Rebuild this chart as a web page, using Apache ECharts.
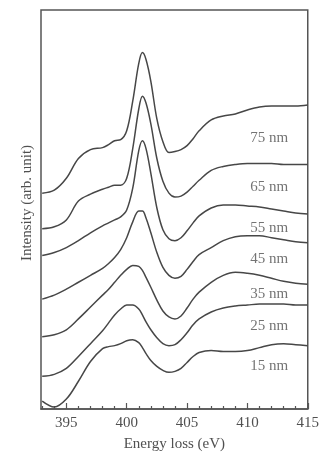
<!DOCTYPE html>
<html>
<head>
<meta charset="utf-8">
<script src="https://cdn.jsdelivr.net/npm/echarts@6/dist/echarts.min.js"></script>
<style>
  html, body { margin: 0; padding: 0; background: #fff; }
  #chart { width: 322px; height: 457px; }
</style>
</head>
<body>
<div id="chart"></div>
<script>
// Energy-loss axis (eV) shared by all spectra
const energy = [393, 394, 395, 396, 397, 398, 398.5, 399, 399.5, 400, 400.5, 401, 401.3, 401.6, 402, 402.5,
                403, 403.5, 404, 404.5, 405, 405.5, 406, 407, 408, 409, 410, 411, 412, 413, 414, 415];

// Offset spectra, one per film thickness (arbitrary units)
const s75 = [218, 221, 233, 253, 262, 264, 267, 271, 272, 281, 311, 349, 360, 353, 331, 293,
             270, 259, 260, 262, 266, 273, 281, 292, 296, 298, 302, 305, 306, 306, 306, 307];
const s65 = [182, 184, 191, 210, 217, 222, 224, 226, 226, 233, 263, 303, 316, 309, 288, 253,
             230, 218, 214, 215, 219, 225, 231, 241, 245, 247, 248, 248, 248, 247, 247, 247];
const s55 = [155, 158, 163, 170, 178, 185, 188, 191, 194, 201, 223, 261, 271, 263, 238, 203,
             181, 172, 170, 173, 180, 188, 195, 203, 206, 206, 205, 204, 202, 200, 198, 197];
const s45 = [111, 115, 121, 128, 135, 142, 147, 153, 161, 173, 189, 200, 200, 193, 178, 158,
             143, 135, 132, 134, 141, 149, 156, 163, 170, 174, 175, 175, 173, 171, 169, 168];
const s35 = [73, 75, 80, 91, 103, 115, 121, 128, 135, 141, 145, 144, 140, 133, 123, 110,
             99, 93, 91, 94, 102, 111, 118, 128, 135, 138, 137, 135, 132, 129, 127, 126];
const s25 = [33, 35, 41, 53, 66, 79, 87, 95, 101, 105, 105, 101, 95, 88, 80, 72,
             66, 64, 65, 70, 77, 85, 91, 98, 102, 104, 105, 106, 106, 106, 105, 105];
const s15 = [8, 2, 10, 28, 48, 61, 63, 64, 66, 69, 70, 67, 62, 56, 49, 43,
             39, 37, 38, 41, 47, 53, 57, 59, 58, 58, 59, 62, 65, 66, 65, 64];

const thickness = ['75 nm', '65 nm', '55 nm', '45 nm', '35 nm', '25 nm', '15 nm'];
const spectra = [s75, s65, s55, s45, s35, s25, s15];

// Where each thickness caption sits
const captionEnergy = 411.8;
const captionLevel = [274, 224, 183, 151, 116, 84, 43];

// Axis ticks
const majorTicks = [395, 400, 405, 410, 415];
const minorTicks = [393, 394, 396, 397, 398, 399, 401, 402, 403, 404, 406, 407, 408, 409, 411, 412, 413, 414];

const serif = '"Liberation Serif", "DejaVu Serif", serif';
const ink = '#474747';
const textInk = '#505050';

const lineSeries = spectra.map((vals, k) => ({
  name: thickness[k],
  type: 'line',
  data: energy.map((e, i) => [e, vals[i]]),
  smooth: 0.35,
  symbol: 'none',
  clip: true,
  lineStyle: { color: ink, width: 1.5 },
  silent: true
}));

const captionSeries = {
  type: 'scatter',
  symbolSize: 0,
  silent: true,
  data: thickness.map((t, k) => ({ value: [captionEnergy, captionLevel[k]], name: t })),
  label: {
    show: true,
    position: 'inside',
    formatter: p => p.name,
    fontFamily: serif,
    fontSize: 15,
    color: textInk
  }
};

const chart = echarts.init(document.getElementById('chart'), null, { renderer: 'canvas' });
chart.setOption({
  animation: false,
  backgroundColor: '#fff',
  grid: {
    left: 41, right: 10, top: 10, bottom: 44,
    show: true, borderColor: '#555', borderWidth: 1.5, backgroundColor: 'transparent'
  },
  xAxis: [
    {
      type: 'value', min: 392.9, max: 415,
      name: 'Energy loss (eV)', nameLocation: 'middle', nameGap: 28,
      nameTextStyle: { fontFamily: serif, fontSize: 15, color: textInk },
      axisLine: { show: true, lineStyle: { color: '#555', width: 1.5 } },
      axisTick: { show: true, inside: true, length: 6, customValues: majorTicks, lineStyle: { color: '#555', width: 1.2 } },
      axisLabel: { show: true, customValues: majorTicks, margin: 7, fontFamily: serif, fontSize: 15, color: textInk },
      splitLine: { show: false }
    },
    {
      type: 'value', min: 392.9, max: 415, position: 'bottom', gridIndex: 0,
      axisLine: { show: false },
      axisTick: { show: true, inside: true, length: 3, customValues: minorTicks, lineStyle: { color: '#555', width: 1.2 } },
      axisLabel: { show: false },
      splitLine: { show: false }
    }
  ],
  yAxis: {
    type: 'value', min: 0, max: 403,
    axisLine: { show: false }, axisTick: { show: false }, axisLabel: { show: false },
    splitLine: { show: false }
  },
  graphic: [{
    type: 'text',
    x: 27, y: 203,
    rotation: Math.PI / 2,
    style: {
      text: 'Intensity (arb. unit)',
      fontFamily: serif, fontSize: 15, fill: textInk,
      align: 'center', verticalAlign: 'middle'
    }
  }],
  series: [...lineSeries, captionSeries]
});
</script>
</body>
</html>
